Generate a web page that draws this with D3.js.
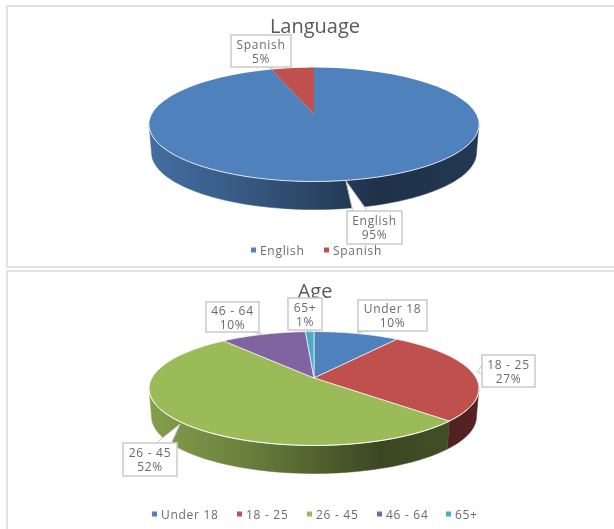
<!DOCTYPE html>
<html>
<head>
<meta charset="utf-8">
<script src="https://cdn.jsdelivr.net/npm/d3@7"></script>
<style>
  html, body { margin: 0; padding: 0; background: #fff; overflow: hidden; }
  svg { display: block; font-family: "Open Sans", sans-serif; filter: blur(0.5px); }
</style>
</head>
<body>
<div id="chart"></div>
<script>
// values (percent)
const languageLabels = ["English", "Spanish"];
const languageValues = [95, 5];
const languageColors = ["#4f81bd", "#c0504d"];

const ageLabels = ["Under 18", "18 - 25", "26 - 45", "46 - 64", "65+"];
const ageValues = [10, 27, 52, 10, 1];
const ageColors = ["#4f81bd", "#c0504d", "#9bbb59", "#8064a2", "#4bacc6"];

const width = 614, height = 529;

const svg = d3.select("#chart").append("svg")
  .attr("width", width)
  .attr("height", height);
const defs = svg.append("defs");

// panel frames, open on the right like the screenshot
const frames = [[7, 6, 267], [7, 271, 540]];
frames.forEach(([x, top, bottom]) => {
  svg.append("path")
    .attr("d", `M${width + 2},${top}H${x}V${bottom}H${width + 2}`)
    .attr("fill", "none")
    .attr("stroke", "#e2e2e2")
    .attr("stroke-width", 2);
});

let gradientId = 0;

function drawPie(opts) {
  const { labels, values, colors, title, titleY, apexY, legendY, legendX, callouts } = opts;
  const g = svg.append("g");

  const cx = 314, k = 0.185, A = 162.1, B = 55, depth = 28;

  // perspective projection of a tilted circle; apex sits above the ellipse centre
  const project = (t, level = 0) => {
    const u = Math.sin(t), v = Math.cos(t), w = 1 + k * v;
    const shrink = 1 - 0.015 * level;
    return [cx + A * shrink * u / w, apexY + depth * level - B * v / w];
  };

  const arcs = d3.pie().sort(null).value(d => d)(values);
  const line = d3.line();
  const sample = (a0, a1, level) => d3.range(0, 61).map(i => project(a0 + (a1 - a0) * i / 60, level));

  // which part of the rim faces the viewer
  const sideStart = Math.acos(-k), sideEnd = 2 * Math.PI - sideStart;

  // side wall
  arcs.forEach((d, i) => {
    const a0 = Math.max(d.startAngle, sideStart), a1 = Math.min(d.endAngle, sideEnd);
    if (a1 <= a0) return;
    const id = `side${gradientId++}`;
    const base = d3.rgb(colors[i]);
    const grad = defs.append("linearGradient")
      .attr("id", id)
      .attr("gradientUnits", "userSpaceOnUse")
      .attr("x1", cx - 165).attr("x2", cx + 165).attr("y1", 0).attr("y2", 0);
    [[0, 0.85], [0.3, 0.68], [0.7, 0.38], [1, 0.44]].forEach(([o, f]) => {
      grad.append("stop")
        .attr("offset", o)
        .attr("stop-color", d3.rgb(base.r * f, base.g * f, base.b * f));
    });
    const pts = sample(a0, a1, 0).concat(sample(a1, a0, 1));
    g.append("path")
      .attr("d", line(pts) + "Z")
      .attr("fill", `url(#${id})`)
      .attr("stroke", `url(#${id})`)
      .attr("stroke-width", 0.5);
  });

  // top face
  arcs.forEach((d, i) => {
    const pts = [[cx, apexY]].concat(sample(d.startAngle, d.endAngle, 0));
    g.append("path")
      .attr("d", line(pts) + "Z")
      .attr("fill", colors[i])
      .attr("stroke", "#fff")
      .attr("stroke-opacity", values.length > 2 ? 0.8 : 0)
      .attr("stroke-width", 0.8);
  });

  // light rim along the front edge
  g.append("path")
    .attr("d", line(sample(sideStart, sideEnd, 0)))
    .attr("fill", "none")
    .attr("stroke", "#fff")
    .attr("stroke-opacity", 0.8)
    .attr("stroke-width", 1);

  // title
  g.append("text")
    .attr("x", cx + 1)
    .attr("y", titleY)
    .attr("text-anchor", "middle")
    .attr("font-size", 20)
    .attr("fill", "#595959")
    .text(title);

  // callouts: white wedge from the slice to a framed label
  callouts.forEach(c => {
    g.append("path")
      .attr("d", line(c.wedge) + "Z")
      .attr("fill", "#fff")
      .attr("stroke", "#c8c8c8")
      .attr("stroke-width", 1);
    g.append("rect")
      .attr("x", c.x)
      .attr("y", c.y)
      .attr("width", c.w)
      .attr("height", c.h)
      .attr("fill", "#fff")
      .attr("stroke", "#cdcdcd")
      .attr("stroke-width", 1.6);
    const text = g.append("text")
      .attr("text-anchor", "middle")
      .attr("font-size", 12)
      .attr("letter-spacing", 0.7)
      .attr("fill", "#6b6b6b");
    text.append("tspan")
      .attr("x", c.x + c.w / 2)
      .attr("y", c.y + c.h / 2 - 2.5)
      .text(labels[c.index]);
    text.append("tspan")
      .attr("x", c.x + c.w / 2)
      .attr("y", c.y + c.h / 2 + 11.5)
      .text(values[c.index] + "%");
  });

  // legend
  labels.forEach((label, i) => {
    g.append("rect")
      .attr("x", legendX[i])
      .attr("y", legendY - 2.5)
      .attr("width", 5)
      .attr("height", 5)
      .attr("fill", colors[i]);
    g.append("text")
      .attr("x", legendX[i] + 9)
      .attr("y", legendY + 4.5)
      .attr("font-size", 12)
      .attr("letter-spacing", 0.7)
      .attr("fill", "#6b6b6b")
      .text(label);
  });
}

drawPie({
  labels: languageLabels,
  values: languageValues,
  colors: languageColors,
  title: "Language",
  titleY: 33,
  apexY: 114,
  legendY: 250,
  legendX: [251, 324],
  callouts: [
    { index: 0, x: 347, y: 211, w: 55, h: 33, wedge: [[346, 181], [353, 212], [368, 212]] },
    { index: 1, x: 231, y: 35, w: 60, h: 32, wedge: [[270, 69], [272, 66], [280, 66]] }
  ]
});

drawPie({
  labels: ageLabels,
  values: ageValues,
  colors: ageColors,
  title: "Age",
  titleY: 298,
  apexY: 378,
  legendY: 514,
  legendX: [152, 237, 307, 377, 446],
  callouts: [
    { index: 0, x: 358, y: 300, w: 69, h: 31, wedge: [[357, 333], [362, 330], [372, 330]] },
    { index: 1, x: 482, y: 355, w: 53, h: 32, wedge: [[477, 372], [483, 364], [483, 374]] },
    { index: 2, x: 123, y: 443, w: 54, h: 33, wedge: [[180, 424], [155, 444], [171, 444]] },
    { index: 3, x: 206, y: 302, w: 53, h: 30, wedge: [[263, 335], [250, 331], [258, 331]] },
    { index: 4, x: 288, y: 298, w: 34, h: 32, wedge: [[311, 332], [300, 329], [310, 329]] }
  ]
});
</script>
</body>
</html>
